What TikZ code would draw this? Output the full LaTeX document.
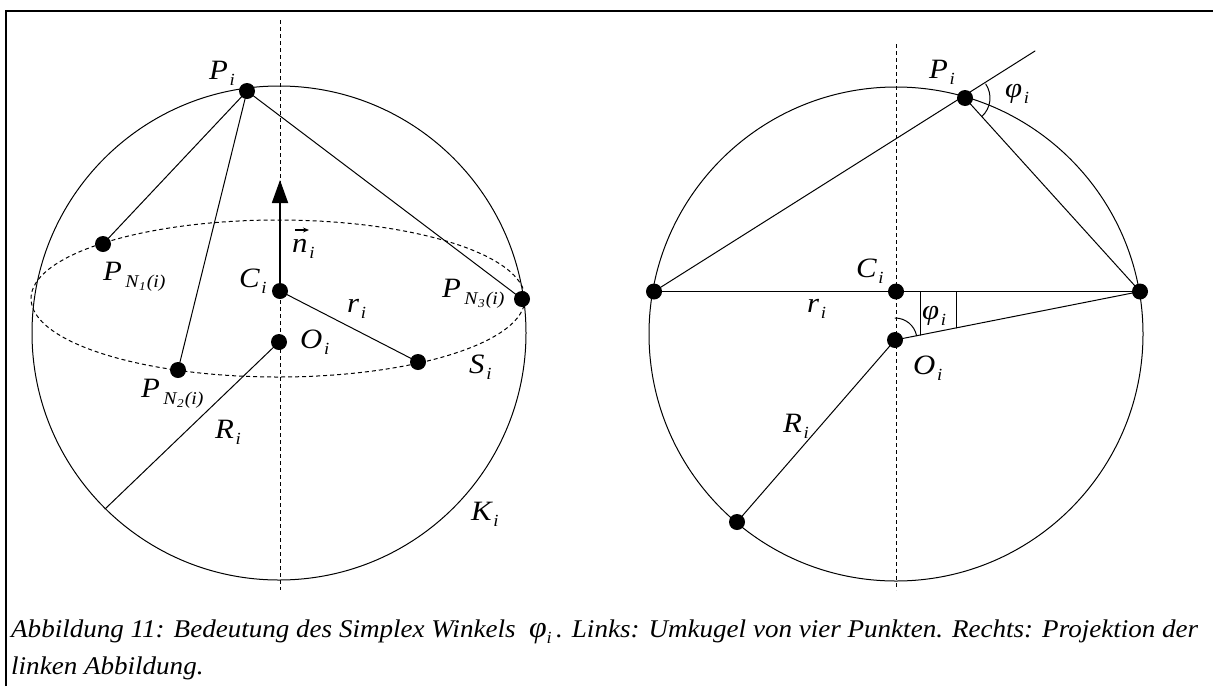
\documentclass[tikz,border=0pt]{standalone}
\usepackage{fontspec}
\setmainfont{Liberation Serif}[ItalicFont={Liberation Serif Italic},BoldFont={Liberation Serif Bold}]
\newfontfamily\lsi{Liberation Serif Italic}
\usetikzlibrary{arrows.meta,calc}
\newcommand\SubI[1]{\raisebox{-6pt}{\lsi\fontsize{17}{17}\selectfont #1}}
\newcommand\Lbl[2]{\scalebox{1.1}[1]{{\lsi\fontsize{28}{28}\selectfont #1}\kern1.5pt\SubI{#2}}}
\newcommand\PN[1]{\scalebox{1.1}[1]{{\lsi\fontsize{28}{28}\selectfont P}\kern3pt\raisebox{-7pt}{\lsi\fontsize{18}{18}\selectfont N\kern0.5pt\raisebox{-3pt}{\fontsize{12}{12}\selectfont #1}\kern1pt(i)}}}
\newsavebox\capone
\newdimen\capw
\begin{document}
\sbox\capone{\lsi\fontsize{25.5}{25.5}\selectfont Abbildung 11: Bedeutung des Simplex Winkels\ \ {\fontsize{30}{30}\selectfont φ}\SubI{i}\,. Links: Umkugel von vier Punkten. Rechts: Projektion der}%
\global\capw=\wd\capone
\begin{tikzpicture}[x=1pt,y=-1pt,
  thinline/.style={line width=1pt,line cap=round},
  dashline/.style={line width=1pt,dash pattern=on 4pt off 3pt},
  dot/.style={circle,fill=black,inner sep=0pt,minimum size=16pt},
  lab/.style={anchor=base west,inner sep=0pt}]
\useasboundingbox (0,0) rectangle (1213,686);
\fill[white] (0,0) rectangle (1213,686);
% frame
\draw[line width=1.5pt] (6,686) -- (6,11) -- (1213,11);

% ================= LEFT FIGURE =================
\coordinate (Lc) at (279,333);
\draw[thinline] (Lc) circle[radius=247];
\draw[dashline] (278,298.5) ellipse[x radius=247,y radius=78.5];
\coordinate (LDt) at (280,20);
\coordinate (LDb) at (280,590);
\draw[dashline] (LDt) -- (LDb);

\coordinate (LP) at (247,91);
\coordinate (LN1) at (103,244);
\coordinate (LN2) at (178,370);
\coordinate (LN3) at (522,299);
\coordinate (LC) at (280,291);
\coordinate (LO) at (279,342);
\coordinate (LS) at (418,362);
\coordinate (LRe) at (105,509);
\coordinate (LT) at (280,180);

\draw[thinline] (LP) -- (LN1);
\draw[thinline] (LP) -- (LN2);
\draw[thinline] (LP) -- (LN3);
\draw[thinline] (LC) -- (LS);
\draw[thinline] (LO) -- (LRe);
\draw[line width=1.8pt,-{Triangle[length=23pt,width=16pt]}] (LC) -- (LT);

\node[dot] (dLP) at (LP) {};
\node[dot] (dLN1) at (LN1) {};
\node[dot] (dLN2) at (LN2) {};
\node[dot] (dLN3) at (LN3) {};
\node[dot] (dLC) at (LC) {};
\node[dot] (dLO) at (LO) {};
\node[dot] (dLS) at (LS) {};

\node[lab] (tLP) at (209,79) {\Lbl{P}{i}};
\node[lab] (tLN1) at (103,280) {\PN{1}};
\node[lab] (tLN2) at (141,397) {\PN{2}};
\node[lab] (tLN3) at (442,297) {\PN{3}};
\node[lab] (tLC) at (239,287) {\Lbl{C}{i}};
\node[lab] (tLO) at (300,348) {\Lbl{O}{i}};
\node[lab] (tLn) at (292,252) {\Lbl{n}{i}};
\draw[line width=1.2pt,-{Stealth[length=6pt,width=5pt]}] ($(tLn.base west)+(3,-22)$) -- ++(14,0);
\node[lab] (tLr) at (347,312) {\Lbl{r}{i}};
\node[lab] (tLS) at (469,373) {\Lbl{S}{i}};
\node[lab] (tLR) at (215,438) {\Lbl{R}{i}};
\node[lab] (tLK) at (471,520) {\Lbl{K}{i}};

% ================= RIGHT FIGURE =================
\coordinate (Rc) at (896,334);
\draw[thinline] (Rc) circle[radius=247];
\coordinate (RDt) at (896,44);
\coordinate (RDb) at (896,590);
\draw[dashline] (RDt) -- (RDb);

\coordinate (RL) at (654,291.5);
\coordinate (RR) at (1140,291.5);
\coordinate (RC) at (896,291.5);
\coordinate (RP) at (965,98);
\coordinate (RO) at (895,340);
\coordinate (RB) at (737,522);
\coordinate (RE) at (1035,51);
\coordinate (RK1) at (872,291.5);

\draw[thinline] (RL) -- (RR);
\draw[line width=1.8pt] (RK1) -- (RC);
\draw[thinline] (RL) -- (RE);
\draw[thinline] (RP) -- (RR);
\draw[thinline] (RO) -- (RR);
\draw[thinline] (RO) -- (RB);
% angle marks
\draw[thinline] (RP) ++(-33.9:25) arc[start angle=-33.9,end angle=47.9,radius=25];
\draw[thinline] (RO) ++(-90:22) arc[start angle=-90,end angle=-11.2,radius=22];
\coordinate (RV1t) at (920,291.5);
\coordinate (RV1b) at (920,335.1);
\coordinate (RV2t) at (956,291.5);
\coordinate (RV2b) at (956,327.9);
\draw[thinline] (RV1t) -- (RV1b);
\draw[thinline] (RV2t) -- (RV2b);

\node[dot] (dRL) at (RL) {};
\node[dot] (dRR) at (RR) {};
\node[dot] (dRC) at (RC) {};
\node[dot] (dRP) at (RP) {};
\node[dot] (dRO) at (RO) {};
\node[dot] (dRB) at (RB) {};

\node[lab] (tRP) at (929,78) {\Lbl{P}{i}};
\node[lab] (tRphi) at (1005,97) {\Lbl{φ}{i}};
\node[lab] (tRC) at (856,277) {\Lbl{C}{i}};
\node[lab] (tRr) at (807,312) {\Lbl{r}{i}};
\node[lab] (tRphi2) at (922,319) {\Lbl{φ}{i}};
\node[lab] (tRO) at (913,374) {\Lbl{O}{i}};
\node[lab] (tRR) at (783,432) {\Lbl{R}{i}};

% ================= CAPTION =================
\pgfmathsetmacro\capsc{1187/\capw}
\node[lab] (cap1) at (11,637) {\scalebox{\capsc}[1]{\usebox\capone}};
\node[lab] (cap2) at (11,674) {\scalebox{\capsc}[1]{\lsi\fontsize{25.5}{25.5}\selectfont linken Abbildung.}};
\end{tikzpicture}
\end{document}
